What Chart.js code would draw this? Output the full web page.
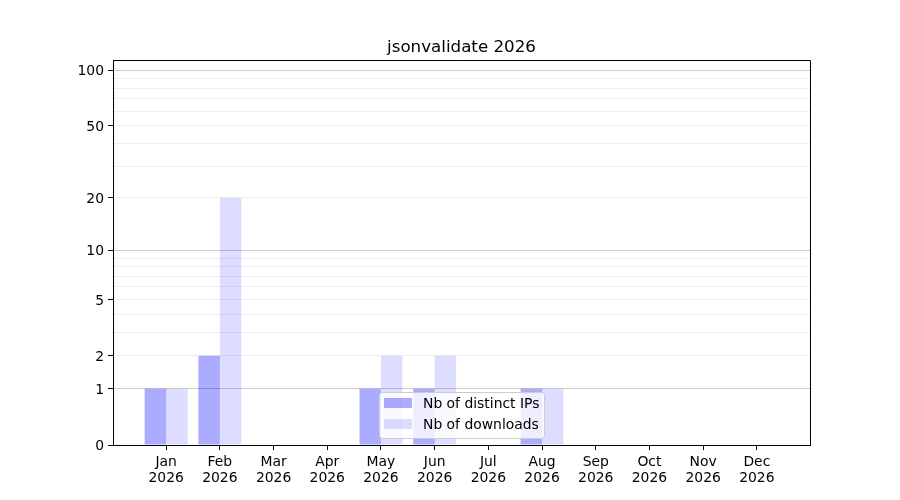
<!DOCTYPE html>
<html>
<head>
<meta charset="utf-8">
<title>jsonvalidate 2026</title>
<script src="https://cdn.jsdelivr.net/npm/chart.js@4.4.1/dist/chart.umd.min.js"></script>
<style>
  html, body { margin: 0; padding: 0; background: #fff; }
  #wrap { width: 900px; height: 500px; }
</style>
</head>
<body>
<div id="wrap"><canvas id="statsChart" width="900" height="500"></canvas></div>
<script>
// chart data
const chartTitle = 'jsonvalidate 2026';
const months = ['Jan', 'Feb', 'Mar', 'Apr', 'May', 'Jun', 'Jul', 'Aug', 'Sep', 'Oct', 'Nov', 'Dec'];
const yearLabel = '2026';
const distinctIps = [1, 2, 0, 0, 1, 1, 0, 1, 0, 0, 0, 0];
const downloads = [1, 20, 0, 0, 2, 2, 0, 1, 0, 0, 0, 0];
const yTickLabels = [0, 1, 2, 5, 10, 20, 50, 100];
const yMinorTicks = [3, 4, 6, 7, 8, 9, 30, 40, 60, 70, 80, 90];
const yMajorGrid = [1, 10, 100];

// y axis is log10(1 + v)
const fwd = v => Math.log10(1 + v);
const yAllTicks = yTickLabels.concat(yMinorTicks).sort((a, b) => a - b);

Chart.defaults.font.family = "'DejaVu Sans', sans-serif";
Chart.defaults.color = '#000';

// title, top/right frame and the legend box inside the plot
const framePlugin = {
    id: 'frame',
    afterDraw(chart) {
        const { ctx, chartArea: a } = chart;
        ctx.save();
        ctx.strokeStyle = '#000';
        ctx.lineWidth = 1;
        ctx.beginPath();
        ctx.moveTo(a.left, a.top + 0.5);
        ctx.lineTo(a.right + 0.5, a.top + 0.5);
        ctx.lineTo(a.right + 0.5, a.bottom);
        ctx.stroke();

        ctx.fillStyle = '#000';
        ctx.font = "16.7px 'DejaVu Sans'";
        ctx.textAlign = 'center';
        ctx.textBaseline = 'middle';
        ctx.fillText(chartTitle, (a.left + a.right) / 2, 47.5);

        // legend
        const lx = 379, ly = 392, lw = 165, lh = 46;
        ctx.beginPath();
        ctx.roundRect(lx + 0.5, ly + 0.5, lw, lh, 3);
        ctx.fillStyle = 'rgba(255,255,255,0.8)';
        ctx.fill();
        ctx.strokeStyle = '#cccccc';
        ctx.stroke();
        ctx.font = "13.9px 'DejaVu Sans'";
        ctx.textAlign = 'left';
        chart.data.datasets.forEach((ds, i) => {
            const cy = 403 + i * 21;
            ctx.fillStyle = ds.backgroundColor;
            ctx.fillRect(384, cy - 5, 28, 10);
            ctx.fillStyle = '#000';
            ctx.fillText(ds.label, 423, cy + 1.5);
        });
        ctx.restore();
    }
};

const ctx = document.getElementById('statsChart').getContext('2d');
new Chart(ctx, {
    type: 'bar',
    data: {
        datasets: [{
            label: 'Nb of distinct IPs',
            data: distinctIps.map((v, i) => ({ x: i, y: fwd(v) })),
            backgroundColor: 'rgba(0,0,255,0.33)',
            borderWidth: 0,
            inflateAmount: 0
        }, {
            label: 'Nb of downloads',
            data: downloads.map((v, i) => ({ x: i, y: fwd(v) })),
            backgroundColor: 'rgba(0,0,255,0.133)',
            borderWidth: 0,
            inflateAmount: 0
        }]
    },
    options: {
        responsive: false,
        animation: false,
        devicePixelRatio: 1,
        categoryPercentage: 0.8,
        barPercentage: 1.0,
        layout: { padding: { top: 60, right: 90, left: 0, bottom: 0 } },
        plugins: {
            legend: { display: false },
            title: { display: false },
            tooltip: { enabled: false }
        },
        scales: {
            x: {
                type: 'linear',
                min: -0.99,
                max: 11.99,
                offset: false,
                afterBuildTicks: s => { s.ticks = months.map((m, i) => ({ value: i })); },
                afterFit: s => { s.height = 55; },
                ticks: {
                    autoSkip: false,
                    maxRotation: 0,
                    padding: 5,
                    font: { size: 13.9, lineHeight: 1.1 },
                    callback: v => [months[v], yearLabel]
                },
                grid: { offset: false, drawOnChartArea: false, tickLength: 5, tickColor: '#000' },
                border: { color: '#000', width: 1 }
            },
            y: {
                type: 'linear',
                min: 0,
                max: 2.059,
                afterBuildTicks: s => { s.ticks = yAllTicks.map(v => ({ value: fwd(v) })); },
                afterFit: s => { s.width = 113; },
                ticks: {
                    padding: 4,
                    labelOffset: 1.5,
                    font: { size: 13.9 },
                    callback: (value, index) => yTickLabels.includes(yAllTicks[index]) ? String(yAllTicks[index]) : ''
                },
                grid: {
                    tickLength: 5,
                    lineWidth: 1,
                    color: c => yMajorGrid.includes(yAllTicks[c.index]) ? '#cccccc' : '#eeeeee',
                    tickColor: c => yTickLabels.includes(yAllTicks[c.index]) ? '#000' : 'rgba(0,0,0,0)'
                },
                border: { color: '#000', width: 1 }
            }
        }
    },
    plugins: [framePlugin]
});
</script>
</body>
</html>
